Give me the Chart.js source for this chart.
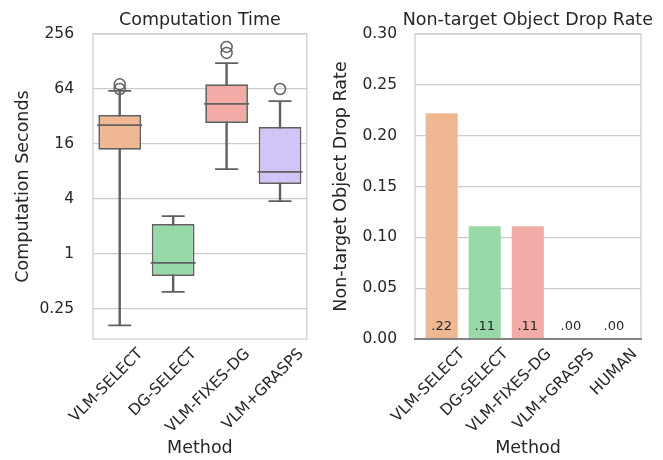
<!DOCTYPE html>
<html>
<head>
<meta charset="utf-8">
<script src="https://cdn.jsdelivr.net/npm/chart.js@4.4.1/dist/chart.umd.min.js"></script>
<style>
  body { margin: 0; background: #fff; }
  #wrap { display: flex; width: 663px; height: 460px; }
</style>
</head>
<body>
<div id="wrap">
  <canvas id="timeChart" width="331" height="460"></canvas>
  <canvas id="dropChart" width="332" height="460"></canvas>
</div>
<script>
// computation time (box plot, seconds)
const boxMethods = ['VLM-SELECT', 'DG-SELECT', 'VLM-FIXES-DG', 'VLM+GRASPS'];
const whiskerLow = [0.165, 0.384, 8.5, 3.8];
const q1 = [13.8, 0.574, 27.1, 5.84];
const medians = [25.8, 0.80, 43.9, 7.9];
const q3 = [33.2, 2.13, 72, 24.6];
const whiskerHigh = [61, 2.6, 123, 47];
const outlierMethod = ['VLM-SELECT', 'VLM-SELECT', 'VLM-FIXES-DG', 'VLM-FIXES-DG', 'VLM+GRASPS'];
const outlierValues = [72, 64, 185, 159, 64];
const timeTicks = [0.25, 1, 4, 16, 64, 256];
const timeTickLabels = ['0.25', '1', '4', '16', '64', '256'];

// drop rate (bars)
const dropMethods = ['VLM-SELECT', 'DG-SELECT', 'VLM-FIXES-DG', 'VLM+GRASPS', 'HUMAN'];
const dropRates = [0.222, 0.111, 0.111, 0, 0];
const rateTicks = [0, 0.05, 0.10, 0.15, 0.20, 0.25, 0.30];

const palette = ['#efb792', '#98daa7', '#f3aba8', '#d3c4f7', '#d9bea4'];
const edge = '#606060';
const ink = '#262626';
const gridColor = '#cccccc';
const FONT = '"DejaVu Sans", sans-serif';

Chart.defaults.font.family = FONT;
Chart.defaults.color = ink;

const framePlugin = {
  id: 'frame',
  afterDraw(chart, args, opts) {
    const { ctx, chartArea: a } = chart;
    ctx.save();
    ctx.lineWidth = 1.25;
    ctx.strokeStyle = gridColor;
    ctx.strokeRect(a.left, a.top, a.right - a.left, a.bottom - a.top);
    if (opts.bottomColor) {
      ctx.strokeStyle = opts.bottomColor;
      ctx.lineWidth = 1.5;
      ctx.beginPath();
      ctx.moveTo(a.left - 1, a.bottom);
      ctx.lineTo(a.right + 1, a.bottom);
      ctx.stroke();
    }
    ctx.restore();
  }
};

const rateLabels = dropRates.map(v => v.toFixed(2).replace(/^0/, ''));

const barLabelPlugin = {
  id: 'barLabels',
  afterDatasetsDraw(chart) {
    const { ctx } = chart;
    const y0 = chart.scales.y.getPixelForValue(0);
    ctx.save();
    ctx.font = '13px ' + FONT;
    ctx.fillStyle = ink;
    ctx.textAlign = 'center';
    ctx.textBaseline = 'middle';
    chart.getDatasetMeta(0).data.forEach((bar, i) => {
      ctx.fillText(rateLabels[i], bar.x, y0 - 12.5);
    });
    ctx.restore();
  }
};

function xTickOpts() {
  return {
    minRotation: 45, maxRotation: 45, autoSkip: false,
    labelOffset: 21, padding: -2,
    font: { size: 15.5 }, color: ink
  };
}

new Chart(document.getElementById('timeChart'), {
  type: 'bar',
  data: {
    labels: boxMethods,
    datasets: [{
      type: 'line',
      data: medians,
      showLine: false,
      pointStyle: 'line',
      pointRadius: 22.5,
      pointBorderWidth: 1.75,
      borderColor: edge,
      order: -2
    }, {
      type: 'line',
      data: whiskerHigh,
      showLine: false,
      pointStyle: 'line',
      pointRadius: 11.5,
      pointBorderWidth: 1.75,
      borderColor: edge,
      order: -1
    }, {
      type: 'line',
      data: whiskerLow,
      showLine: false,
      pointStyle: 'line',
      pointRadius: 11.5,
      pointBorderWidth: 1.75,
      borderColor: edge,
      order: -1
    }, {
      type: 'line',
      data: outlierValues.map((v, i) => ({ x: outlierMethod[i], y: v })),
      showLine: false,
      pointStyle: 'circle',
      pointRadius: 5.5,
      pointBorderWidth: 1.5,
      borderColor: edge,
      pointBackgroundColor: 'rgba(0,0,0,0)',
      order: -1
    }, {
      data: q1.map((v, i) => [v, q3[i]]),
      backgroundColor: palette.slice(0, 4),
      borderColor: edge,
      borderWidth: 1.75,
      borderSkipped: false,
      barPercentage: 0.8,
      categoryPercentage: 1,
      grouped: false,
      order: 1
    }, {
      data: whiskerLow.map((v, i) => [v, whiskerHigh[i]]),
      backgroundColor: edge,
      borderWidth: 0,
      barThickness: 1.75,
      grouped: false,
      order: 2
    }]
  },
  options: {
    responsive: false,
    animation: false,
    layout: { padding: { left: 0, right: 11, top: 0, bottom: 0 } },
    plugins: {
      legend: { display: false },
      tooltip: { enabled: false },
      title: {
        display: true,
        text: 'Computation Time',
        fullSize: false,
        font: { size: 17.5, weight: 'normal' },
        color: ink,
        padding: { top: 9.5, bottom: 3.5 }
      },
      frame: {}
    },
    scales: {
      x: {
        type: 'category',
        offset: true,
        grid: { display: false },
        border: { display: false },
        ticks: xTickOpts(),
        title: { display: true, text: 'Method', font: { size: 17.5 }, color: ink, padding: { top: 0, bottom: 1.5 } },
        afterFit(scale) { scale.height = 121; }
      },
      y: {
        type: 'logarithmic',
        min: 0.1173,
        max: 256,
        afterBuildTicks(scale) { scale.ticks = timeTicks.map(v => ({ value: v })); },
        ticks: {
          padding: 19,
          font: { size: 15.5 },
          color: ink,
          callback(value) { return timeTickLabels[timeTicks.indexOf(value)]; }
        },
        grid: { color: gridColor, lineWidth: 1.25, drawTicks: false },
        border: { display: false },
        title: { display: true, text: 'Computation Seconds', font: { size: 17.5 }, color: ink, padding: { top: 13, bottom: 0 } },
        afterFit(scale) { scale.width = 93; }
      }
    }
  },
  plugins: [framePlugin]
});

new Chart(document.getElementById('dropChart'), {
  type: 'bar',
  data: {
    datasets: [{
      data: dropRates.map((v, i) => ({ x: i, y: v })),
      backgroundColor: palette,
      borderWidth: 0,
      barPercentage: 0.745,
      categoryPercentage: 1
    }]
  },
  options: {
    responsive: false,
    animation: false,
    layout: { padding: { left: 0, right: 10, top: 0, bottom: 0 } },
    plugins: {
      legend: { display: false },
      tooltip: { enabled: false },
      title: {
        display: true,
        text: 'Non-target Object Drop Rate',
        align: 'end',
        font: { size: 17.5, weight: 'normal' },
        color: ink,
        padding: { top: 9.5, bottom: 3.5 }
      },
      frame: { bottomColor: '#6a6a6a' }
    },
    scales: {
      x: {
        type: 'linear',
        offset: false,
        min: -0.62,
        max: 4.63,
        afterBuildTicks(scale) { scale.ticks = dropMethods.map((m, i) => ({ value: i })); },
        grid: { display: false },
        border: { display: false },
        ticks: Object.assign(xTickOpts(), { callback(value) { return dropMethods[value]; } }),
        title: { display: true, text: 'Method', font: { size: 17.5 }, color: ink, padding: { top: 0, bottom: 1.5 } },
        afterFit(scale) { scale.height = 121; }
      },
      y: {
        min: 0,
        max: 0.3,
        afterBuildTicks(scale) { scale.ticks = rateTicks.map(v => ({ value: v })); },
        ticks: {
          padding: 18,
          font: { size: 15.5 },
          color: ink,
          callback(value) { return value.toFixed(2); }
        },
        grid: { color: gridColor, lineWidth: 1.25, drawTicks: false },
        border: { display: false },
        title: { display: true, text: 'Non-target Object Drop Rate', font: { size: 17.5 }, color: ink, padding: { top: 0, bottom: 0 } },
        afterFit(scale) { scale.width = 84; }
      },
      // empty strip on the right so the title can run past the plot frame
      yPad: {
        type: 'linear',
        position: 'right',
        grid: { display: false },
        border: { display: false },
        ticks: { display: false },
        afterFit(scale) { scale.width = 12; }
      }
    }
  },
  plugins: [framePlugin, barLabelPlugin]
});
</script>
</body>
</html>
